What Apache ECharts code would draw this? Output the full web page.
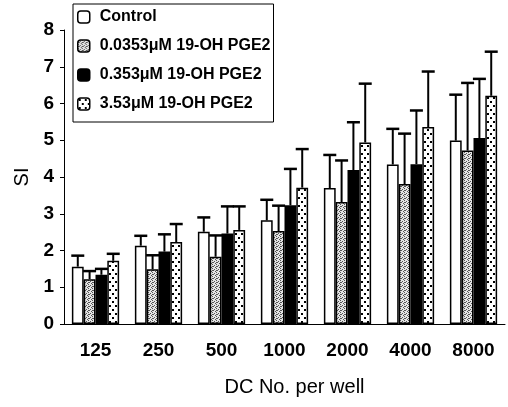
<!DOCTYPE html>
<html><head><meta charset="utf-8">
<script src="https://cdn.jsdelivr.net/npm/echarts@6/dist/echarts.min.js"></script>
<style>html,body{margin:0;padding:0;background:#fff}#c{width:508px;height:407px}</style>
</head><body><div id="c"></div>
<script>
var categories = ['125','250','500','1000','2000','4000','8000'];
var seriesNames = ['Control','0.0353\u03bcM 19-OH PGE2','0.353\u03bcM 19-OH PGE2','3.53\u03bcM 19-OH PGE2'];
var controlMean = [1.56, 2.13, 2.51, 2.82, 3.70, 4.34, 4.99];
var controlErr  = [0.30, 0.27, 0.39, 0.56, 0.90, 0.97, 1.25];
var lowMean     = [1.22, 1.49, 1.83, 2.53, 3.32, 3.81, 4.72];
var lowErr      = [0.22, 0.38, 0.58, 0.69, 1.13, 1.37, 1.84];
var midMean     = [1.34, 1.97, 2.46, 3.23, 4.19, 4.35, 5.06];
var midErr      = [0.16, 0.47, 0.74, 0.99, 1.30, 1.46, 1.61];
var highMean    = [1.72, 2.23, 2.56, 3.71, 4.94, 5.36, 6.21];
var highErr     = [0.19, 0.49, 0.64, 1.05, 1.60, 1.51, 1.20];
var yTicks = [0,1,2,3,4,5,6,7,8];

function grayPattern(){
  var c=document.createElement('canvas');c.width=4;c.height=4;var g=c.getContext('2d');
  g.fillStyle='#e4e4e4';g.fillRect(0,0,4,4);
  g.fillStyle='#555';
  g.fillRect(0,0,1,1);g.fillRect(2,1,1,1);g.fillRect(1,2,1,1);g.fillRect(3,3,1,1);g.fillRect(0,2,1,1);
  return c;
}
function dotPattern(){
  var c=document.createElement('canvas');c.width=6;c.height=8;var g=c.getContext('2d');
  g.fillStyle='#fff';g.fillRect(0,0,6,8);
  g.fillStyle='#000';
  g.fillRect(1,1,2,2);g.fillRect(4,5,2,2);
  return c;
}
var fills = ['#ffffff', {image: grayPattern(), repeat:'repeat'}, '#000000', {image: dotPattern(), repeat:'repeat'}];
var means = [controlMean, lowMean, midMean, highMean];
var errs = [controlErr, lowErr, midErr, highErr];
var FONT = 'Liberation Sans, Arial, sans-serif';
var series = [];
seriesNames.forEach(function(n,k){
  series.push({name:n, type:'bar', data:means[k], barGap:'0%', barCategoryGap:'25%',
    itemStyle:{color:fills[k], borderColor:'#000', borderWidth:1.5}, silent:true});
});
seriesNames.forEach(function(n,k){
  series.push({type:'custom', silent:true, z:1,
    data: means[k].map(function(m,i){return [i, m, m+errs[k][i]];}),
    renderItem: function(params, api){
      var i=api.value(0);
      var band=api.size([1,0])[0];
      var gw=band*0.75, bw=gw/4;
      var base=api.coord([i, api.value(1)]);
      var top=api.coord([i, api.value(2)]);
      var x=base[0]-gw/2+bw*(k+0.5);
      var cw=6.5;
      return {type:'group', children:[
        {type:'line', shape:{x1:x,y1:base[1],x2:x,y2:top[1]}, style:{stroke:'#000',lineWidth:2}},
        {type:'line', shape:{x1:x-cw,y1:top[1],x2:x+cw,y2:top[1]}, style:{stroke:'#000',lineWidth:2.5}}
      ]};
    }});
});
var chart = echarts.init(document.getElementById('c'), null, {renderer:'canvas'});
chart.setOption({
  animation:false,
  textStyle:{fontFamily:FONT},
  grid:{left:64, right:3, top:30, bottom:83},
  legend:{data:seriesNames, orient:'vertical', left:73, top:4, itemWidth:12, itemHeight:12, itemGap:13,
    padding:[5,3,10,4], borderColor:'#000', borderWidth:1, backgroundColor:'#fff',
    textStyle:{fontSize:16, color:'#000', fontFamily:FONT, fontWeight:'bold', lineHeight:16, padding:[0,0,0,5]},
    itemStyle:{borderColor:'#000', borderWidth:1.5}},
  xAxis:{type:'category', data:categories,
    axisLine:{lineStyle:{color:'#000', width:1}}, axisTick:{length:4, lineStyle:{color:'#000'}},
    axisLabel:{color:'#000', fontSize:19, margin:17, fontFamily:FONT, fontWeight:'bold'},
    name:'DC No. per well', nameLocation:'middle', nameGap:53,
    nameTextStyle:{color:'#000', fontSize:20, fontFamily:FONT, padding:[0,0,0,20]}},
  yAxis:{type:'value', min:yTicks[0], max:yTicks[yTicks.length-1], interval:1,
    axisLine:{show:true, lineStyle:{color:'#000', width:1}}, axisTick:{show:true, length:4, lineStyle:{color:'#000'}},
    splitLine:{show:false},
    axisLabel:{color:'#000', fontSize:19, margin:10, fontFamily:FONT, fontWeight:'bold'},
    name:'SI', nameLocation:'middle', nameGap:31,
    nameTextStyle:{color:'#000', fontSize:20, fontFamily:FONT}},
  series:series
});
</script></body></html>
